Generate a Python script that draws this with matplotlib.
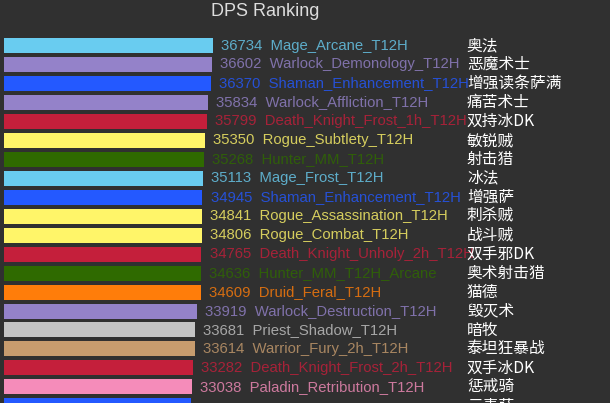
import matplotlib
matplotlib.use("Agg")
import matplotlib.pyplot as plt

# ---------- data ----------
names = [
    "Mage_Arcane_T12H", "Warlock_Demonology_T12H", "Shaman_Enhancement_T12H",
    "Warlock_Affliction_T12H", "Death_Knight_Frost_1h_T12H", "Rogue_Subtlety_T12H",
    "Hunter_MM_T12H", "Mage_Frost_T12H", "Shaman_Enhancement_T12H",
    "Rogue_Assassination_T12H", "Rogue_Combat_T12H", "Death_Knight_Unholy_2h_T12H",
    "Hunter_MM_T12H_Arcane", "Druid_Feral_T12H", "Warlock_Destruction_T12H",
    "Priest_Shadow_T12H", "Warrior_Fury_2h_T12H", "Death_Knight_Frost_2h_T12H",
    "Paladin_Retribution_T12H", "Shaman_Elemental_T12H",
]
dps = [36734, 36602, 36370, 35834, 35799, 35350, 35268, 35113, 34945, 34841,
       34806, 34765, 34636, 34609, 33919, 33681, 33614, 33282, 33038, 33009]
cn_names = ["奥法", "恶魔术士", "增强读条萨满", "痛苦术士", "双持冰DK", "敏锐贼",
            "射击猎", "冰法", "增强萨", "刺杀贼", "战斗贼", "双手邪DK", "奥术射击猎",
            "猫德", "毁灭术", "暗牧", "泰坦狂暴战", "双手冰DK", "惩戒骑", "元素萨"]
classes = ["mage", "warlock", "shaman", "warlock", "dk", "rogue", "hunter", "mage",
           "shaman", "rogue", "rogue", "dk", "hunter", "druid", "warlock", "priest",
           "warrior", "dk", "paladin", "shaman"]

class_colors = {
    "mage": "#69ccf0", "warlock": "#9482c9", "shaman": "#2459ff", "dk": "#c41f3b",
    "rogue": "#fff569", "hunter": "#2f6a00", "druid": "#ff7d0a", "priest": "#c4c4c4",
    "warrior": "#c79c6e", "paladin": "#f58cba",
}

BG = "#303030"

fig = plt.figure(figsize=(6.1, 4.03), dpi=100, facecolor=BG)
ax = fig.add_axes([4 / 610, 0, 606 / 610, 1])
ax.set_facecolor(BG)

rows = list(range(len(dps)))
colors = [class_colors[c] for c in classes]
ax.barh(rows, dps, height=0.79, color=colors, left=0)

ax.set_xlim(0, 106700)
ax.set_ylim(18.85, -2.40)
ax.axis("off")

latin = ["Liberation Sans", "DejaVu Sans"]
for i, (v, n, c) in enumerate(zip(dps, names, colors)):
    # labels look a bit dimmer than the bars in the reference
    ax.annotate(f"{v}  {n}", xy=(v, i), xytext=(5.8, 0), textcoords="offset points",
                va="center", ha="left", color=c, alpha=0.8, fontsize=10.7, family=latin)
    ax.text(81500, i, cn_names[i], va="center", ha="left", color="white",
            fontsize=11.3, family=["Noto Sans CJK SC", "DejaVu Sans"])

fig.text(265 / 610, 1 - 12 / 403, "DPS Ranking", ha="center", va="center",
         color="#dddddd", fontsize=13, family=latin)

fig.savefig("out.png", dpi=100, facecolor=BG)
